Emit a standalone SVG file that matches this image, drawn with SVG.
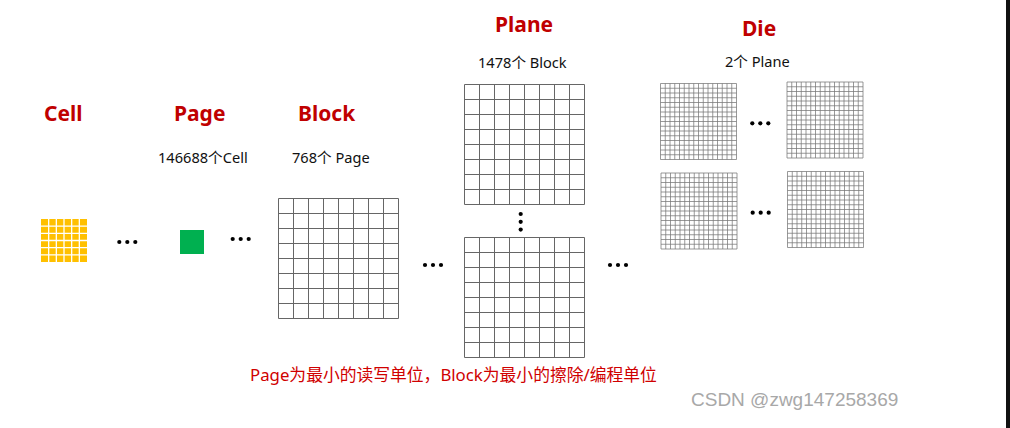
<svg xmlns="http://www.w3.org/2000/svg" width="1010" height="428" viewBox="0 0 1010 428">
<style>
.title{font-family:"Noto Sans","Noto Sans CJK SC",sans-serif;font-weight:bold;font-size:21px;fill:#C00000}
.sub{font-family:"Noto Sans","Noto Sans CJK SC",sans-serif;font-size:14.6px;fill:#111}
.note{font-family:"Noto Sans","Noto Sans CJK SC",sans-serif;font-size:16.8px;fill:#D00000}
.wm{font-family:"Liberation Sans",sans-serif;font-size:19px;fill:#A8A8A8}
.g8{fill:#fff;stroke:#666;stroke-width:1}
.g16{fill:#fff;stroke:#777;stroke-width:0.75}
.dot{fill:#000}
</style>
<defs>
<path id="grid8" class="g8" d="M0 0H120V120H0Z M15 0V120M30 0V120M45 0V120M60 0V120M75 0V120M90 0V120M105 0V120 M0 15H120M0 30H120M0 45H120M0 60H120M0 75H120M0 90H120M0 105H120"/>
<path id="grid16" class="g16" d="M0 0H76V76H0Z M4.75 0V76M9.5 0V76M14.25 0V76M19 0V76M23.75 0V76M28.5 0V76M33.25 0V76M38 0V76M42.75 0V76M47.5 0V76M52.25 0V76M57 0V76M61.75 0V76M66.5 0V76M71.25 0V76 M0 4.75H76M0 9.5H76M0 14.25H76M0 19H76M0 23.75H76M0 28.5H76M0 33.25H76M0 38H76M0 42.75H76M0 47.5H76M0 52.25H76M0 57H76M0 61.75H76M0 66.5H76M0 71.25H76"/>
<g id="hdots"><circle cx="0" cy="0" r="2.1"/><circle cx="8" cy="0" r="2.1"/><circle cx="16" cy="0" r="2.1"/></g>
</defs>
<rect width="1010" height="428" fill="#fff"/>

<g id="cell">
<text class="title" x="44" y="121">Cell</text>
<rect x="41" y="219" width="46" height="43" fill="#FFC000"/>
<path d="M48.67 219V262M56.33 219V262M64 219V262M71.67 219V262M79.33 219V262M41 226.17H87M41 233.33H87M41 240.5H87M41 247.67H87M41 254.83H87" stroke="#fff" stroke-width="1.3"/>
</g>

<g id="page">
<text class="title" x="174" y="121">Page</text>
<text class="sub" x="158" y="163">146688个Cell</text>
<rect x="180" y="230" width="24" height="24" fill="#00B050"/>
</g>

<g id="block">
<text class="title" x="298" y="121">Block</text>
<text class="sub" x="292" y="163">768个 Page</text>
<use href="#grid8" x="278.5" y="198.5"/>
</g>

<g id="plane">
<text class="title" x="495" y="32">Plane</text>
<text class="sub" x="478" y="68">1478个 Block</text>
<use href="#grid8" x="464.5" y="84.5"/>
<use href="#grid8" x="464.5" y="237.5"/>
<g class="dot"><circle cx="520.7" cy="214" r="2.1"/><circle cx="520.7" cy="221.8" r="2.1"/><circle cx="520.7" cy="229.6" r="2.1"/></g>
</g>

<g id="die">
<text class="title" x="742" y="36">Die</text>
<text class="sub" x="725" y="67">2个 Plane</text>
<use href="#grid16" x="660.5" y="83.5"/>
<use href="#grid16" x="787" y="82"/>
<use href="#grid16" x="661" y="173"/>
<use href="#grid16" x="787.5" y="171.5"/>
<use href="#hdots" class="dot" x="752.3" y="123.3"/>
<use href="#hdots" class="dot" x="752.7" y="212.7"/>
</g>

<g id="connectors" class="dot">
<use href="#hdots" x="119.3" y="242"/>
<use href="#hdots" x="232.7" y="239"/>
<use href="#hdots" x="425" y="265"/>
<use href="#hdots" x="610" y="265"/>
</g>

<text class="note" x="250" y="381">Page为最小的读写单位，Block为最小的擦除/编程单位</text>
<text class="wm" x="691" y="406">CSDN @zwg147258369</text>
<rect x="1006" y="0" width="4" height="428" fill="#111"/>
</svg>
